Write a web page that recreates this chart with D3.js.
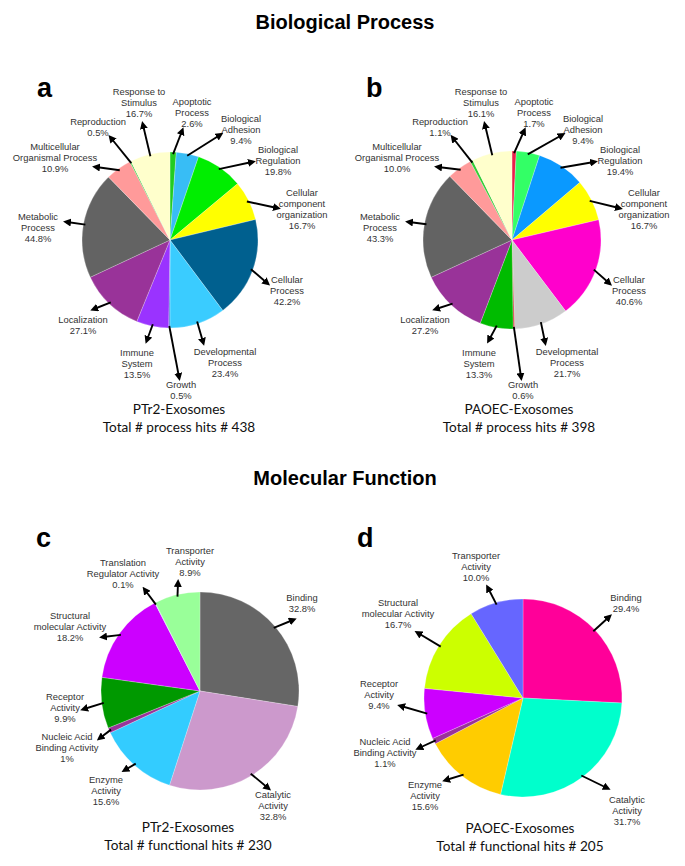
<!DOCTYPE html>
<html><head><meta charset="utf-8">
<script src="https://cdn.jsdelivr.net/npm/d3@7"></script>
<style>
html,body{margin:0;padding:0;background:#fff;}
svg{display:block;}
</style></head>
<body>
<svg id="chart" width="685" height="866"></svg>
<script>
// ---------- DATA ----------
const processCategories = [
  ["Apoptotic","Process"],["Biological","Adhesion"],["Biological","Regulation"],
  ["Cellular","component","organization"],["Cellular","Process"],["Developmental","Process"],
  ["Growth"],["Immune","System"],["Localization"],["Metabolic","Process"],
  ["Multicellular","Organismal Process"],["Reproduction"],["Response to","Stimulus"]
];
const processValuesA = ["2.6","9.4","19.8","16.7","42.2","23.4","0.5","13.5","27.1","44.8","10.9","0.5","16.7"];
const processValuesB = ["1.7","9.4","19.4","16.7","40.6","21.7","0.6","13.3","27.2","43.3","10.0","1.1","16.1"];
const processColorsA = ["#22cc22","#38bdf5","#00ee00","#ffff00","#00608f","#3accff","#3366cc","#9a33ff","#993399","#636363","#ff9a9a","#33cc33","#ffffcc"];
const processColorsB = ["#e8204a","#33ff66","#0a99ff","#ffff00","#ff00cc","#cccccc","#cc3333","#00bb00","#993399","#636363","#ff9a9a","#33cc33","#ffffcc"];

const functionCategories = [
  ["Binding"],["Catalytic","Activity"],["Enzyme","Activity"],["Nucleic Acid","Binding Activity"],
  ["Receptor","Activity"],["Structural","molecular Activity"],["Translation","Regulator Activity"],["Transporter","Activity"]
];
const functionValuesC = ["32.8","32.8","15.6","1","9.9","18.2","0.1","8.9"];
const functionValuesD = ["29.4","31.7","15.6","1.1","9.4","16.7",null,"10.0"];
const functionColorsC = ["#666666","#cc99cc","#33ccff","#993399","#009900","#cc00ff","#99ccff","#99ff99"];
const functionColorsD = ["#ff0099","#00ffcc","#ffcc00","#993399","#cc00ff","#ccff00","#99ccff","#6666ff"];

const captions = {
  a:["PTr2-Exosomes","Total # process hits # 438"],
  b:["PAOEC-Exosomes","Total # process hits # 398"],
  c:["PTr2-Exosomes","Total # functional hits # 230"],
  d:["PAOEC-Exosomes","Total # functional hits # 205"]
};

// ---------- LAYOUT (label text centre & arrow tip, relative to pie centre) ----------
const processLayout = [
  {lx:22,ly:-138,ax:12,ay:-109},
  {lx:71,ly:-121,ax:50,ay:-105},
  {lx:108,ly:-90,ax:82,ay:-78},
  {lx:132,ly:-47,ax:107,ay:-32},
  {lx:117,ly:40,ax:97,ay:43},
  {lx:55,ly:112,ax:33,ay:102},
  {lx:11,ly:145,ax:9,ay:137},
  {lx:-33,ly:113,ax:-23,ay:100},
  {lx:-87,ly:80,ax:-76,ay:69},
  {lx:-132,ly:-23,ax:-103,ay:-18},
  {lx:-115,ly:-93,ax:-74,ay:-73},
  {lx:-72,ly:-118,ax:-59,ay:-102},
  {lx:-31,ly:-148,ax:-27,ay:-115}
];
const functionLayoutC = [
  {lx:102,ly:-93,ax:93,ay:-71},
  {lx:73,ly:104,ax:68,ay:97},
  {lx:-94,ly:89,ax:-75,ay:79},
  {lx:-133,ly:46,ax:-100,ay:47},
  {lx:-135,ly:6,ax:-116,ay:18},
  {lx:-130,ly:-75,ax:-97,ay:-54},
  {lx:-77,ly:-128,ax:-55,ay:-101},
  {lx:-10,ly:-140,ax:-22,ay:-108}
];
const functionLayoutD = [
  {lx:103,ly:-100,ax:86,ay:-81},
  {lx:104,ly:102,ax:84,ay:90},
  {lx:-98,ly:87,ax:-77,ay:82},
  {lx:-138,ly:44,ax:-104,ay:50},
  {lx:-144,ly:-14,ax:-122,ay:8},
  {lx:-125,ly:-95,ax:-105,ay:-65},
  null,
  {lx:-47,ly:-142,ax:-35,ay:-110}
];

const svg = d3.select("#chart");
const defs = svg.append("defs");
defs.append("marker").attr("id","arrow").attr("viewBox","0 0 10 10")
  .attr("refX",5).attr("refY",5).attr("markerWidth",4.2).attr("markerHeight",4.2)
  .attr("orient","auto-start-reverse").attr("markerUnits","strokeWidth")
  .append("path").attr("d","M0,0 L10,5 L0,10 z").attr("fill","#000");

// Section titles
svg.append("text").attr("x",345).attr("y",29).attr("text-anchor","middle")
  .attr("font-family","Liberation Sans, Arial, sans-serif").attr("font-weight","bold")
  .attr("font-size",20).attr("fill","#000").text("Biological Process");
svg.append("text").attr("x",345).attr("y",485).attr("text-anchor","middle")
  .attr("font-family","Liberation Sans, Arial, sans-serif").attr("font-weight","bold")
  .attr("font-size",20).attr("fill","#000").text("Molecular Function");

function drawPie(opt){
  const g = svg.append("g").attr("transform",`translate(${opt.cx},${opt.cy})`);
  const items = opt.cats.map((c,i)=>({lines:c, s:opt.values[i], v: opt.values[i]==null?0:+opt.values[i], color:opt.colors[i], lay:opt.layout[i]}))
    .filter(d=>d.s!=null);
  const pie = d3.pie().value(d=>d.v).sort(null);
  const arc = d3.arc().innerRadius(0).outerRadius(opt.r);
  const arcs = pie(items);
  g.selectAll("path.slice").data(arcs).join("path").attr("class","slice")
    .attr("d",arc).attr("fill",d=>d.data.color)
    .attr("stroke","#ffffff").attr("stroke-width",0.4).attr("stroke-opacity",0.6);
  // arrows
  arcs.forEach(a=>{
    const L=a.data.lay; if(!L) return;
    const m=(a.startAngle+a.endAngle)/2;
    const sx=Math.sin(m)*(opt.r-2), sy=-Math.cos(m)*(opt.r-2);
    g.append("line").attr("x1",sx).attr("y1",sy).attr("x2",L.ax).attr("y2",L.ay)
      .attr("stroke","#000").attr("stroke-width",1.9).attr("marker-end","url(#arrow)");
    const t = g.append("text").attr("text-anchor","middle")
      .attr("font-family","Liberation Sans, Arial, sans-serif").attr("font-size",9.4).attr("fill","#333");
    const lines = a.data.lines.concat([a.data.s+"%"]);
    lines.forEach((ln,k)=>{
      t.append("tspan").attr("x",L.lx).attr("y",L.ly+3.3+k*10.8).text(ln);
    });
  });
  // panel letter
  svg.append("text").attr("x",opt.letterX).attr("y",opt.letterY)
    .attr("font-family","Liberation Sans, Arial, sans-serif").attr("font-weight","bold")
    .attr("font-size",27).attr("fill","#000").text(opt.letter);
  // caption
  const cap = captions[opt.letter];
  cap.forEach((c,k)=>{
    svg.append("text").attr("x",opt.capX).attr("y",opt.capY+k*18).attr("text-anchor","middle")
      .attr("font-family","Lato, Open Sans, sans-serif").attr("font-size",13.6).attr("fill","#111").text(c);
  });
}

drawPie({cx:170,cy:240,r:88,cats:processCategories,values:processValuesA,colors:processColorsA,layout:processLayout,
  letter:"a",letterX:37,letterY:97,capX:179,capY:414});
drawPie({cx:512,cy:240,r:89,cats:processCategories,values:processValuesB,colors:processColorsB,layout:processLayout,
  letter:"b",letterX:366,letterY:97,capX:519,capY:414});
drawPie({cx:200,cy:691,r:99,cats:functionCategories,values:functionValuesC,colors:functionColorsC,layout:functionLayoutC,
  letter:"c",letterX:36,letterY:547,capX:188,capY:832});
drawPie({cx:523,cy:698,r:99,cats:functionCategories,values:functionValuesD,colors:functionColorsD,layout:functionLayoutD,
  letter:"d",letterX:357,letterY:547,capX:520,capY:833});
</script>
</body></html>
